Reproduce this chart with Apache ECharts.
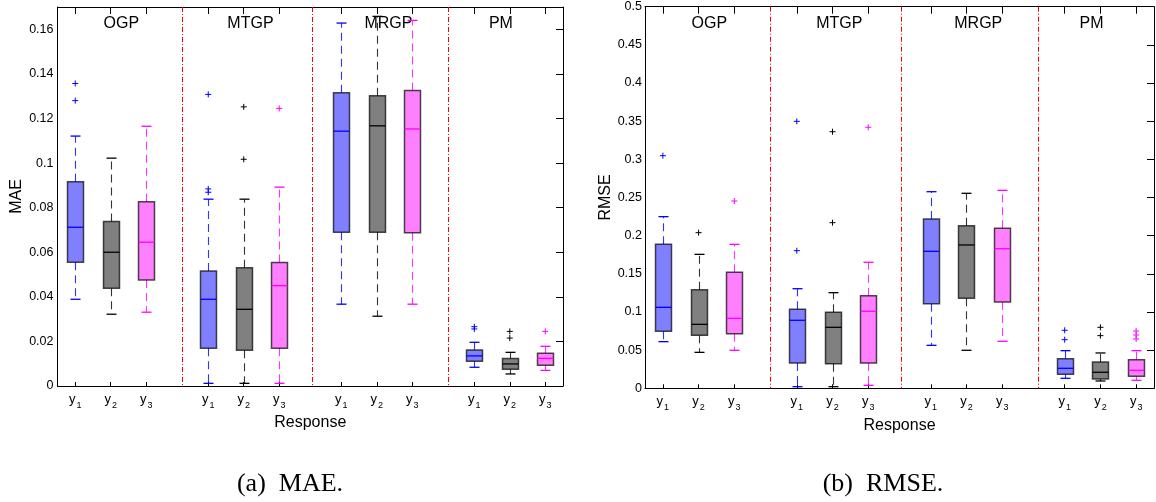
<!DOCTYPE html>
<html>
<head>
<meta charset="utf-8">
<script src="https://cdn.jsdelivr.net/npm/echarts@6/dist/echarts.min.js"></script>
<style>
  html, body { margin: 0; padding: 0; background: #fff; }
  #chart { width: 1156px; height: 502px; }
</style>
</head>
<body>
<div id="chart"></div>
<script>
// method groups and responses (subscripts of y)
var methods = ['OGP', 'MTGP', 'MRGP', 'PM'];
var responses = ['1', '2', '3'];

// x places of the boxes (one unit = one box step), group separators, group titles
var boxPos = [0, 1, 2, 3.75, 4.75, 5.75, 7.5, 8.5, 9.5, 11.25, 12.25, 13.25];
var sepPos = [3.0, 6.67, 10.5];
var titlePos = [1.3, 4.94, 8.83, 12.0];

// y tick labels
var maeTicks = [0, 0.02, 0.04, 0.06, 0.08, 0.1, 0.12, 0.14, 0.16];
var rmseTicks = [0, 0.05, 0.1, 0.15, 0.2, 0.25, 0.3, 0.35, 0.4, 0.45, 0.5];

// MAE boxes: [lower whisker, Q1, median, Q3, upper whisker] for y1, y2, y3
var maeOGP  = [[0.0389, 0.0555, 0.0712, 0.0916, 0.1121], [0.0322, 0.0438, 0.0600, 0.0738, 0.1022], [0.0331, 0.0476, 0.0645, 0.0827, 0.1165]];
var maeMTGP = [[0.0012, 0.0169, 0.0389, 0.0516, 0.0838], [0.0012, 0.0160, 0.0344, 0.0530, 0.0838], [0.0012, 0.0169, 0.0450, 0.0554, 0.0892]];
var maeMRGP = [[0.0367, 0.0690, 0.1143, 0.1315, 0.1628], [0.0313, 0.0690, 0.1167, 0.1302, 0.1658], [0.0367, 0.0687, 0.1153, 0.1325, 0.1640]];
var maePM   = [[0.0084, 0.0111, 0.0135, 0.0162, 0.0196], [0.0054, 0.0075, 0.0099, 0.0123, 0.0151], [0.0070, 0.0093, 0.0124, 0.0147, 0.0178]];
// MAE outliers for y1, y2, y3
var maeOGPOut  = [[0.1357, 0.1280], [], []];
var maeMTGPOut = [[0.1308, 0.0884, 0.0869], [0.1252, 0.1017], [0.1245]];
var maeMRGPOut = [[], [], []];
var maePMOut   = [[0.0266, 0.0256], [0.0245, 0.0215], [0.0245]];

// RMSE boxes
var rmseOGP  = [[0.0611, 0.0747, 0.1061, 0.1886, 0.2249], [0.0471, 0.0694, 0.0838, 0.1292, 0.1755], [0.0498, 0.0716, 0.0917, 0.1520, 0.1886]];
var rmseMTGP = [[0.0021, 0.0331, 0.0891, 0.1035, 0.1305], [0.0021, 0.0323, 0.0799, 0.0996, 0.1253], [0.0039, 0.0331, 0.1009, 0.1214, 0.1651]];
var rmseMRGP = [[0.0563, 0.1109, 0.1795, 0.2218, 0.2576], [0.0498, 0.1179, 0.1878, 0.2131, 0.2555], [0.0616, 0.1131, 0.1829, 0.2096, 0.2594]];
var rmsePM   = [[0.0131, 0.0183, 0.0262, 0.0388, 0.0493], [0.0096, 0.0122, 0.0210, 0.0345, 0.0463], [0.0105, 0.0157, 0.0236, 0.0375, 0.0493]];
// RMSE outliers
var rmseOGPOut  = [[0.3048], [0.2039], [0.2454]];
var rmseMTGPOut = [[0.3498, 0.1803], [0.3362, 0.2170], [0.3420]];
var rmseMRGPOut = [[], [], []];
var rmsePMOut   = [[0.0760, 0.0637], [0.0799, 0.0690], [0.0751, 0.0698, 0.0646]];

var fillColors = ['#8080ff', '#808080', '#ff80ff'];
var lineColors = ['#0000ff', '#000000', '#ff00ff'];
var font = '"Liberation Sans", Arial, sans-serif';

// flatten groups into [x, lo, q1, med, q3, hi, response]
function boxData(groups) {
  var out = [];
  groups.forEach(function (g, gi) {
    g.forEach(function (s, r) {
      out.push([boxPos[gi * 3 + r]].concat(s).concat([r]));
    });
  });
  return out;
}
function outlierData(groups) {
  var out = [];
  groups.forEach(function (g, gi) {
    g.forEach(function (vals, r) {
      vals.forEach(function (v) {
        out.push([boxPos[gi * 3 + r], v, r]);
      });
    });
  });
  return out;
}

function renderBox(params, api) {
  var x = api.value(0), k = api.value(6);
  var cx = Math.round(api.coord([x, 0])[0]) + 0.5;
  var yLo = api.coord([x, api.value(1)])[1];
  var yQ1 = api.coord([x, api.value(2)])[1];
  var yMd = api.coord([x, api.value(3)])[1];
  var yQ3 = api.coord([x, api.value(4)])[1];
  var yHi = api.coord([x, api.value(5)])[1];
  var half = 8, cap = 5;
  var dash = { stroke: lineColors[k], lineWidth: 1.1, opacity: 0.8, lineDash: [8, 5] };
  var solid = { stroke: lineColors[k], lineWidth: 1.3 };
  return {
    type: 'group',
    children: [
      { type: 'line', shape: { x1: cx, y1: yQ3, x2: cx, y2: yHi }, style: dash },
      { type: 'line', shape: { x1: cx, y1: yQ1, x2: cx, y2: yLo }, style: dash },
      { type: 'line', shape: { x1: cx - cap, y1: yHi, x2: cx + cap, y2: yHi }, style: solid },
      { type: 'line', shape: { x1: cx - cap, y1: yLo, x2: cx + cap, y2: yLo }, style: solid },
      { type: 'rect', shape: { x: cx - half, y: yQ3, width: half * 2, height: yQ1 - yQ3 },
        style: { fill: fillColors[k], stroke: 'rgba(0,0,0,0.7)', lineWidth: 1.5 } },
      { type: 'line', shape: { x1: cx - half, y1: yMd, x2: cx + half, y2: yMd }, style: solid }
    ]
  };
}

function renderPlus(params, api) {
  var p = api.coord([api.value(0), api.value(1)]);
  var k = api.value(2), s = 3;
  var st = { stroke: lineColors[k], lineWidth: 1 };
  return {
    type: 'group',
    children: [
      { type: 'line', shape: { x1: p[0] - s, y1: p[1], x2: p[0] + s, y2: p[1] }, style: st },
      { type: 'line', shape: { x1: p[0], y1: p[1] - s, x2: p[0], y2: p[1] + s }, style: st }
    ]
  };
}

function renderSep(params, api) {
  var cs = params.coordSys;
  var x = Math.round(api.coord([api.value(0), 0])[0]) + 0.5;
  return {
    type: 'line',
    shape: { x1: x, y1: cs.y, x2: x, y2: cs.y + cs.height },
    style: { stroke: '#ff0000', lineWidth: 1, lineDash: [5, 2, 1, 2] }
  };
}

function renderTitle(params, api) {
  var cs = params.coordSys;
  var x = api.coord([api.value(0), 0])[0];
  return {
    type: 'text',
    x: x, y: cs.y + 16.5,
    style: {
      text: methods[api.value(1)], fill: '#000', font: '16px ' + font,
      align: 'center', verticalAlign: 'middle',
      textAlign: 'center', textVerticalAlign: 'middle'
    }
  };
}

function xLabel(v) {
  var best = 0;
  boxPos.forEach(function (p, i) {
    if (Math.abs(p - v) < Math.abs(boxPos[best] - v)) best = i;
  });
  return '{a|y}{s|' + responses[best % 3] + '}';
}

function xAxes(gi) {
  return [
    {
      gridIndex: gi, type: 'value', min: -0.5, max: 13.75, position: 'bottom',
      axisLine: { onZero: false, lineStyle: { color: '#000', width: 1 } },
      axisTick: { inside: true, length: 4, customValues: boxPos, lineStyle: { color: '#000' } },
      axisLabel: {
        customValues: boxPos, margin: 7, formatter: xLabel,
        rich: {
          a: { fontSize: 13, lineHeight: 13, color: '#000', fontFamily: font, verticalAlign: 'top' },
          s: { fontSize: 9, lineHeight: 9, color: '#000', fontFamily: font, verticalAlign: 'top', padding: [8, 0, 0, 1] }
        }
      },
      splitLine: { show: false },
      name: 'Response', nameLocation: 'middle', nameGap: 26,
      nameTextStyle: { fontSize: 16, color: '#000', fontFamily: font }
    },
    {
      gridIndex: gi, type: 'value', min: -0.5, max: 13.75, position: 'top',
      axisLine: { onZero: false, lineStyle: { color: '#000', width: 1 } },
      axisTick: { inside: true, length: 7, customValues: boxPos, lineStyle: { color: '#000' } },
      axisLabel: { show: false },
      splitLine: { show: false }
    }
  ];
}

function yAxes(gi, max, ticks, name, gap, margin) {
  return [
    {
      gridIndex: gi, type: 'value', min: 0, max: max, position: 'left',
      axisLine: { show: true, onZero: false, lineStyle: { color: '#000', width: 1 } },
      axisTick: { show: false },
      axisLabel: { customValues: ticks, fontSize: 12.5, color: '#000', fontFamily: font, margin: margin },
      splitLine: { show: false },
      name: name, nameLocation: 'middle', nameGap: gap,
      nameTextStyle: { fontSize: 16, color: '#000', fontFamily: font }
    },
    {
      gridIndex: gi, type: 'value', min: 0, max: max, position: 'right',
      axisLine: { show: true, onZero: false, lineStyle: { color: '#000', width: 1 } },
      axisTick: { inside: true, length: 7, customValues: ticks, lineStyle: { color: '#000' } },
      axisLabel: { show: false },
      splitLine: { show: false }
    }
  ];
}

function panelSeries(xi, yi, boxes, outliers) {
  var base = { type: 'custom', xAxisIndex: xi, yAxisIndex: yi, silent: true, clip: false };
  return [
    Object.assign({}, base, { renderItem: renderSep, data: sepPos.map(function (v) { return [v, 0]; }),
      encode: { x: 0, y: 1 } }),
    Object.assign({}, base, { renderItem: renderTitle, data: titlePos.map(function (v, i) { return [v, i]; }),
      encode: { x: 0 } }),
    Object.assign({}, base, { renderItem: renderBox, data: boxData(boxes),
      encode: { x: 0, y: [1, 2, 3, 4, 5] } }),
    Object.assign({}, base, { renderItem: renderPlus, data: outlierData(outliers),
      encode: { x: 0, y: 1 } })
  ];
}

var chart = echarts.init(document.getElementById('chart'));
chart.setOption({
  animation: false,
  backgroundColor: '#fff',
  textStyle: { fontFamily: font },
  grid: [
    { left: 57.5, top: 7, width: 505.5, height: 379 },
    { left: 645, top: 6.7, width: 509, height: 381.6 }
  ],
  xAxis: xAxes(0).concat(xAxes(1)),
  yAxis: yAxes(0, 0.17, maeTicks, 'MAE', 33, 4).concat(yAxes(1, 0.5, rmseTicks, 'RMSE', 31, 3)),
  graphic: [
    { type: 'text', x: 290, y: 484,
      style: { text: '(a)  MAE.', font: '26px "Liberation Serif", "Times New Roman", serif', fill: '#000',
        align: 'center', verticalAlign: 'middle', textAlign: 'center', textVerticalAlign: 'middle' } },
    { type: 'text', x: 883, y: 484,
      style: { text: '(b)  RMSE.', font: '26px "Liberation Serif", "Times New Roman", serif', fill: '#000',
        align: 'center', verticalAlign: 'middle', textAlign: 'center', textVerticalAlign: 'middle' } }
  ],
  series: panelSeries(0, 0, [maeOGP, maeMTGP, maeMRGP, maePM], [maeOGPOut, maeMTGPOut, maeMRGPOut, maePMOut])
    .concat(panelSeries(2, 2, [rmseOGP, rmseMTGP, rmseMRGP, rmsePM], [rmseOGPOut, rmseMTGPOut, rmseMRGPOut, rmsePMOut]))
});
</script>
</body>
</html>
